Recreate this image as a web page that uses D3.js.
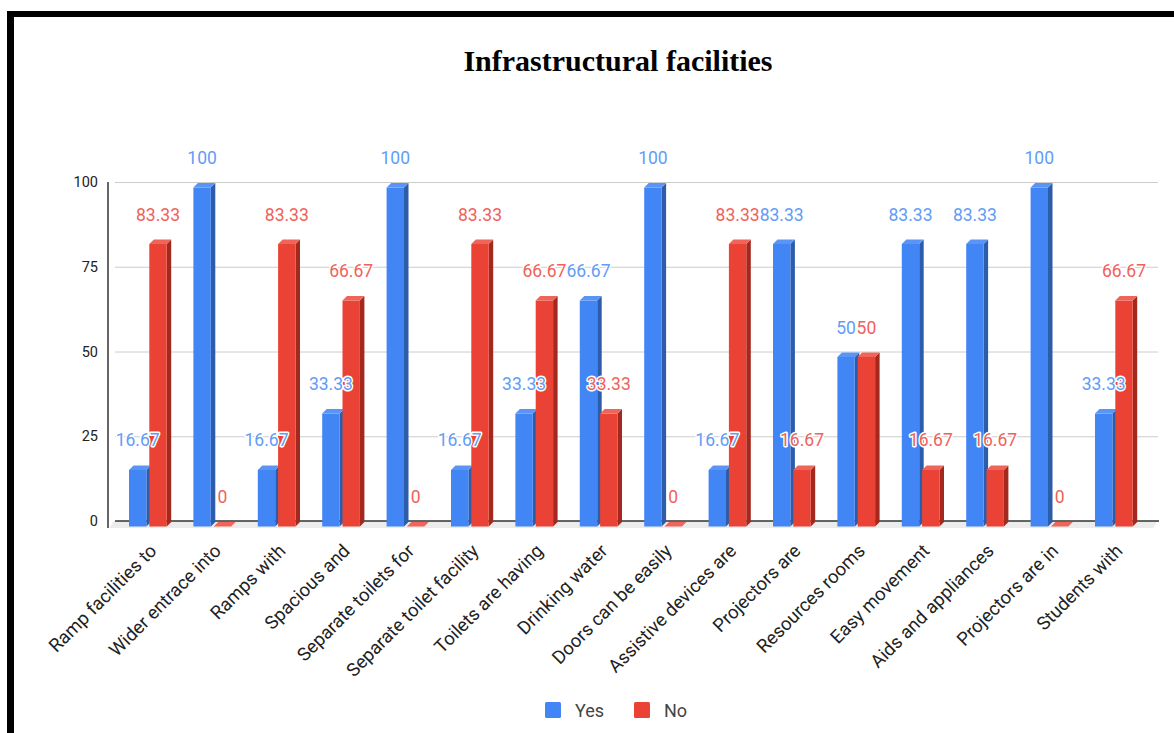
<!DOCTYPE html>
<html>
<head>
<meta charset="utf-8">
<script src="https://cdn.jsdelivr.net/npm/d3@7"></script>
<style>
  html, body { margin: 0; padding: 0; background: #fff; }
  svg { display: block; }
</style>
</head>
<body>
<svg id="chart" width="1174" height="733"></svg>
<script>
// Survey results: share of respondents (%) answering Yes / No per facility
const categories = [
  "Ramp facilities to", "Wider entrace into", "Ramps with", "Spacious and",
  "Separate toilets for", "Separate toilet facility", "Toilets are having",
  "Drinking water", "Doors can be easily", "Assistive devices are",
  "Projectors are", "Resources rooms", "Easy movement", "Aids and appliances",
  "Projectors are in", "Students with"
];
const seriesNames = ["Yes", "No"];
const yesValues = [16.67, 100, 16.67, 33.33, 100, 16.67, 33.33, 66.67, 100, 16.67, 83.33, 50, 83.33, 83.33, 100, 33.33];
const noValues  = [83.33, 0, 83.33, 66.67, 0, 83.33, 66.67, 33.33, 0, 83.33, 16.67, 50, 16.67, 16.67, 0, 66.67];
const yTicks = [0, 25, 50, 75, 100];
const titleText = "Infrastructural facilities";

const palette = {
  Yes: { front: "#4285f4", top: "#5a95f5", side: "#2d5cab", label: "#629cf7" },
  No:  { front: "#ea4335", top: "#f0655a", side: "#a3281d", label: "#ef625a" }
};

const svg = d3.select("#chart");

// frame lines (top and left)
svg.append("rect").attr("x", 7).attr("y", 11).attr("width", 1167).attr("height", 6).attr("fill", "#000");
svg.append("rect").attr("x", 7).attr("y", 11).attr("width", 7).attr("height", 722).attr("fill", "#000");

// title
svg.append("text")
  .attr("x", 618).attr("y", 71)
  .attr("text-anchor", "middle")
  .attr("font-family", "'Liberation Serif', 'Times New Roman', serif")
  .attr("font-weight", "bold")
  .attr("font-size", 30)
  .attr("fill", "#000")
  .text(titleText);

// scales: back wall of the 3D plot
const y = d3.scaleLinear().domain([0, 100]).range([521, 182]);
const x = d3.scaleBand().domain(categories).range([106.6, 106.6 + 16 * 64.4]).padding(0);
const sub = d3.scaleBand().domain(seriesNames).range([22.4, 22.4 + 40.6]).padding(0);
const barW = 17.4;     // front face width
const depthX = 4.5;    // 3D depth offset
const frontDrop = 5.5; // front face sits lower than the back wall
const backDrop = 1;

const gridLeft = 115, gridRight = 1158;

// gridlines
const grid = svg.append("g").attr("transform", `translate(${gridLeft},0)`)
  .call(d3.axisLeft(y).tickValues(yTicks.filter(v => v > 0)).tickSize(-(gridRight - gridLeft)).tickFormat(""));
grid.select(".domain").remove();
grid.selectAll(".tick line").attr("stroke", "#cccccc").attr("stroke-width", 1);

// floor
svg.append("polygon")
  .attr("points", [[109, y(0) + 7], [gridLeft - 1, y(0)], [gridRight, y(0)], [gridRight - 5, y(0) + 7]].map(p => p.join(",")).join(" "))
  .attr("fill", "#ececec");

// baseline
svg.append("line")
  .attr("x1", gridLeft).attr("x2", gridRight + 1)
  .attr("y1", y(0)).attr("y2", y(0))
  .attr("stroke", "#333").attr("stroke-width", 1.3);

// y axis
const yAxis = svg.append("g").attr("transform", "translate(108,0)")
  .call(d3.axisLeft(y).tickValues(yTicks).tickSize(0).tickPadding(10));
yAxis.select(".domain").remove();
yAxis.selectAll("text")
  .attr("font-family", "Roboto, Arial, sans-serif")
  .attr("font-size", 14.5)
  .attr("fill", "#222");
svg.append("line")
  .attr("x1", 108).attr("x2", 108)
  .attr("y1", y(100)).attr("y2", y(0) + 7)
  .attr("stroke", "#333").attr("stroke-width", 1.5);

// bars
const rows = categories.map((c, i) => ({ cat: c, Yes: yesValues[i], No: noValues[i] }));
const bars = svg.append("g");
rows.forEach(r => {
  seriesNames.forEach(s => {
    const v = r[s];
    const fx = x(r.cat) + sub(s);
    const yt = y(v);
    const y0 = y(0);
    const col = palette[s];
    const g = bars.append("g");
    if (v > 0) {
      g.append("polygon")
        .attr("points", [[fx + barW, yt + frontDrop], [fx + barW + depthX, yt + backDrop], [fx + barW + depthX, y0 + backDrop], [fx + barW, y0 + frontDrop]].map(p => p.join(",")).join(" "))
        .attr("fill", col.side);
      g.append("rect")
        .attr("x", fx).attr("y", yt + frontDrop)
        .attr("width", barW).attr("height", (y0 + frontDrop) - (yt + frontDrop))
        .attr("fill", col.front);
    }
    g.append("polygon")
      .attr("points", [[fx, yt + frontDrop], [fx + depthX, yt + backDrop], [fx + barW + depthX, yt + backDrop], [fx + barW, yt + frontDrop]].map(p => p.join(",")).join(" "))
      .attr("fill", col.top);
  });
});

// value labels
const labels = svg.append("g")
  .attr("font-family", "Roboto, Arial, sans-serif")
  .attr("font-size", 17.5)
  .attr("text-anchor", "middle");
rows.forEach(r => {
  seriesNames.forEach(s => {
    const v = r[s];
    labels.append("text")
      .attr("x", x(r.cat) + sub(s) + barW / 2)
      .attr("y", y(v) - 18)
      .attr("fill", palette[s].label)
      .attr("stroke", "#fff")
      .attr("stroke-width", 3)
      .attr("stroke-linejoin", "round")
      .attr("paint-order", "stroke")
      .text(d3.format("~f")(v));
  });
});

// category axis
const xAxis = svg.append("g").attr("transform", "translate(0,552)")
  .call(d3.axisBottom(x).tickSize(0).tickPadding(0));
xAxis.select(".domain").remove();
xAxis.selectAll(".tick text")
  .attr("font-family", "Roboto, Arial, sans-serif")
  .attr("font-size", 18.5)
  .attr("fill", "#222")
  .attr("text-anchor", "end")
  .attr("dy", 0)
  .attr("x", 0).attr("y", 0)
  .attr("transform", "translate(19,0) rotate(-45)");

// legend
const legend = svg.append("g").attr("font-family", "Roboto, Arial, sans-serif").attr("font-size", 18).attr("fill", "#444");
const legendPos = { Yes: 545, No: 634 };
seriesNames.forEach(s => {
  const lx = legendPos[s];
  legend.append("rect").attr("x", lx).attr("y", 702).attr("width", 16).attr("height", 16).attr("rx", 1.5)
    .attr("fill", palette[s].front);
  legend.append("text").attr("x", lx + 30).attr("y", 717).text(s);
});
</script>
</body>
</html>
